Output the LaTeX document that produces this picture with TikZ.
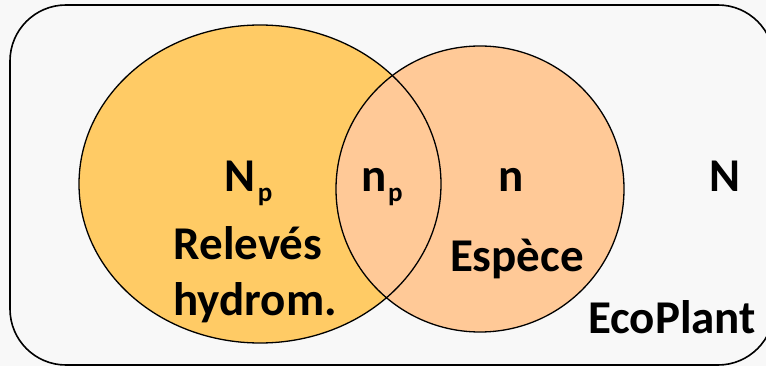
\documentclass[tikz,border=0pt]{standalone}
\usepackage{fontspec}
\setmainfont{Carlito}
\definecolor{bgc}{HTML}{F8F8F8}
\definecolor{setA}{HTML}{FFCB65}
\definecolor{setB}{HTML}{FFC997}
\begin{document}
\begin{tikzpicture}[x=1pt,y=-1pt,
  lbl/.style={anchor=base,inner sep=0pt,font=\fontsize{47}{47}\selectfont\bfseries},
  sub/.style={anchor=base west,inner sep=0pt,font=\fontsize{27}{27}\selectfont\bfseries}]
\useasboundingbox (0,0) rectangle (766,366);
\fill[bgc] (0,0) rectangle (766,366);
\draw[line width=1.6pt, rounded corners=56pt] (10,5) rectangle (774,365);
% fills
\fill[setA] (260,184) ellipse [x radius=181pt, y radius=159pt];
\fill[setB] (480,189) ellipse [x radius=144pt, y radius=143pt];
% outlines
\draw[line width=1.3pt] (260,184) ellipse [x radius=181pt, y radius=159pt];
\draw[line width=1.3pt] (480,189) ellipse [x radius=144pt, y radius=143pt];
% labels
\node[lbl] (Np) at (240,192) {N};
\node[sub] (Npsub) at ([yshift=-10pt,xshift=2pt]Np.base east) {p};
\node[lbl] (relev) at (248,260) {Relevés};
\node[lbl] (hydro) at (255,316) {hydrom.};
\node[lbl] (np) at (374,192) {n};
\node[sub] (npsub) at ([yshift=-10pt,xshift=1pt]np.base east) {p};
\node[lbl] (n) at (511,192) {n};
\node[lbl] (N) at (725,192) {N};
\node[lbl] (esp) at (517,272) {Espèce};
\node[lbl] (eco) at (672,333) {EcoPlant};
\end{tikzpicture}
\end{document}
